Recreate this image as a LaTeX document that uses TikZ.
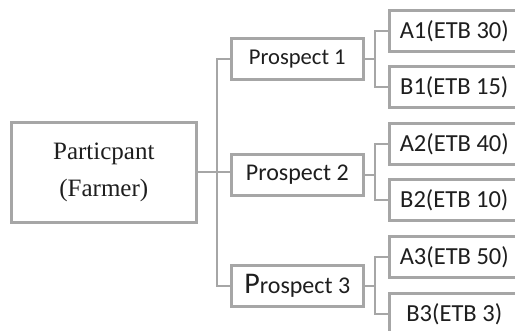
\documentclass[tikz,border=0pt]{standalone}
\usepackage{fontspec}
\setmainfont{Liberation Serif}
\newfontfamily\calfont{Carlito}
\definecolor{boxgray}{HTML}{A6A6A6}
\definecolor{ink}{HTML}{1E1E1E}
\begin{document}
\begin{tikzpicture}[x=1pt,y=-1pt,
  box/.style={draw=boxgray,line width=2.6pt,fill=white,inner sep=0pt,
    text=ink,anchor=north west},
  rootbox/.style={box,minimum width=185pt,minimum height=100pt,
    font=\fontsize{25}{37}\selectfont,align=center},
  prosbox/.style={box,minimum width=132pt,minimum height=41pt,
    font=\calfont\fontsize{24}{28}\selectfont},
  leafbox/.style={box,minimum width=130pt,minimum height=41pt,
    font=\calfont\fontsize{24.5}{28}\selectfont},
  link/.style={draw=boxgray,line width=2pt}]
\useasboundingbox (0,0) rectangle (515,331);
\clip (0,0) rectangle (515,331);

% root
\node[rootbox] (part) at (10,121) {Particpant\\(Farmer)};

% prospects
\node[prosbox,font=\calfont\fontsize{22.6}{28}\selectfont] (p1) at (230,37) {Prospect 1};
\node[prosbox] (p2) at (230,153) {Prospect 2};
\node[prosbox] (p3) at (230,264) {{\fontsize{30}{30}\selectfont P}rospect 3};

% outcomes
\node[leafbox] (a1) at (388,9)   {A1(ETB 30)};
\node[leafbox] (b1) at (388,65)  {B1(ETB 15)};
\node[leafbox] (a2) at (388,122) {A2(ETB 40)};
\node[leafbox] (b2) at (388,178) {B2(ETB 10)};
\node[leafbox] (a3) at (388,235) {A3(ETB 50)};
\node[leafbox] (b3) at (388,292) {B3(ETB 3)};

% trunk from the participant to the prospects
\draw[link] (part.east) -- (part.east -| p2.west);
\draw[link] (p1.west) -- ++(-13,0) |- (p3.west);

% branches from each prospect to its two outcomes
\foreach \p/\a/\b in {p1/a1/b1,p2/a2/b2,p3/a3/b3}{
  \path (\a.west) ++(-13,0) coordinate (s\p);
  \draw[link] (\p.east) -- (\p.east -| s\p);
  \draw[link] (\a.west) -- (s\p) |- (\b.west);
}
\end{tikzpicture}
\end{document}
